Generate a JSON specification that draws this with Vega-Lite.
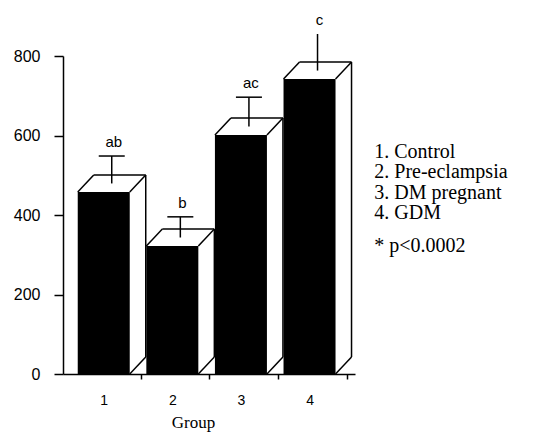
{
  "$schema": "https://vega.github.io/schema/vega-lite/v6.json",
  "width": 292,
  "height": 318,
  "autosize": {"type": "none"},
  "padding": {"left": 63, "top": 56, "right": 201, "bottom": 67},
  "background": "white",
  "config": {"view": {"stroke": null}, "axis": {"grid": false}},
  "datasets": {
    "bars": [
      {"group": 1, "mean": 458, "upper": 527, "sig": "ab"},
      {"group": 2, "mean": 322, "upper": 374, "sig": "b"},
      {"group": 3, "mean": 601, "upper": 675, "sig": "ac"},
      {"group": 4, "mean": 742, "upper": 834, "sig": "c"}
    ],
    "notes": [
      {"text": "1. Control", "lx": 4.944, "ly": 543},
      {"text": "2. Pre-eclampsia", "lx": 4.944, "ly": 492},
      {"text": "3. DM pregnant", "lx": 4.944, "ly": 440},
      {"text": "4. GDM", "lx": 4.944, "ly": 389},
      {"text": "* p<0.0002", "lx": 4.944, "ly": 307}
    ]
  },
  "layer": [
    {
      "data": {"name": "bars"},
      "mark": {"type": "bar", "width": 52, "color": "black"},
      "encoding": {
        "x": {
          "field": "group", "type": "quantitative", "title": "Group",
          "scale": {"domain": [0.479, 4.59], "nice": false, "zero": false},
          "axis": {
            "title": "Group",
            "values": [1, 1.54, 2, 2.54, 3, 3.54, 4, 4.54],
            "labelExpr": "datum.value % 1 == 0 ? format(datum.value, 'd') : ''",
            "tickOpacity": {"condition": {"test": "datum.value % 1 == 0", "value": 0}, "value": 1},
            "tickSize": 5, "tickWidth": 1.5, "tickColor": "black",
            "domainColor": "black", "domainWidth": 1.5,
            "labelFont": "Liberation Sans", "labelFontSize": 14, "labelColor": "black",
            "labelPadding": 14,
            "titleFont": "Liberation Serif", "titleFontSize": 17, "titleFontWeight": "normal",
            "titleColor": "black", "titlePadding": 7, "titleX": 130
          }
        },
        "y": {
          "field": "mean", "type": "quantitative", "title": null,
          "scale": {"domain": [0, 800], "nice": false},
          "axis": {
            "title": null,
            "values": [0, 100, 200, 300, 400, 500, 600, 700, 800],
            "labelExpr": "datum.value % 200 == 0 ? format(datum.value, 'd') : ''",
            "tickSize": {"condition": {"test": "datum.value % 200 == 0", "value": 9}, "value": 5},
            "tickWidth": 1.5, "tickColor": "black",
            "domainColor": "black", "domainWidth": 1.5,
            "labelFont": "Liberation Sans", "labelFontSize": 16, "labelColor": "black",
            "labelPadding": 14
          }
        }
      }
    },
    {
      "data": {"name": "bars"},
      "mark": {"type": "rule", "color": "black", "strokeWidth": 1.5, "xOffset": 8, "yOffset": -8.5, "y2Offset": -8.5},
      "encoding": {
        "x": {"field": "group", "type": "quantitative", "title": "Group"},
        "y": {"field": "mean", "type": "quantitative", "title": null},
        "y2": {"field": "upper"}
      }
    },
    {
      "data": {"name": "bars"},
      "transform": [{"filter": "datum.group != 4"}],
      "mark": {"type": "rule", "color": "black", "strokeWidth": 1.5, "xOffset": -5, "x2Offset": 21, "yOffset": -8.5},
      "encoding": {
        "x": {"field": "group", "type": "quantitative", "title": "Group"},
        "x2": {"field": "group"},
        "y": {"field": "upper", "type": "quantitative", "title": null}
      }
    },
    {
      "data": {"name": "bars"},
      "mark": {"type": "rule", "color": "black", "strokeWidth": 1.5, "xOffset": -26, "x2Offset": -10, "y2Offset": -17},
      "encoding": {
        "x": {"field": "group", "type": "quantitative", "title": "Group"},
        "x2": {"field": "group"},
        "y": {"field": "mean", "type": "quantitative", "title": null},
        "y2": {"field": "mean"}
      }
    },
    {
      "data": {"name": "bars"},
      "mark": {"type": "rule", "color": "black", "strokeWidth": 1.5, "xOffset": 26, "x2Offset": 42, "y2Offset": -17},
      "encoding": {
        "x": {"field": "group", "type": "quantitative", "title": "Group"},
        "x2": {"field": "group"},
        "y": {"field": "mean", "type": "quantitative", "title": null},
        "y2": {"field": "mean"}
      }
    },
    {
      "data": {"name": "bars"},
      "mark": {"type": "rule", "color": "black", "strokeWidth": 1.5, "xOffset": -10, "x2Offset": 42, "yOffset": -17},
      "encoding": {
        "x": {"field": "group", "type": "quantitative", "title": "Group"},
        "x2": {"field": "group"},
        "y": {"field": "mean", "type": "quantitative", "title": null}
      }
    },
    {
      "data": {"name": "bars"},
      "mark": {"type": "rule", "color": "black", "strokeWidth": 1.5, "xOffset": 42, "yOffset": -17, "y2Offset": -17},
      "encoding": {
        "x": {"field": "group", "type": "quantitative", "title": "Group"},
        "y": {"field": "mean", "type": "quantitative", "title": null},
        "y2": {"datum": 0}
      }
    },
    {
      "data": {"name": "bars"},
      "mark": {"type": "rule", "color": "black", "strokeWidth": 1.5, "xOffset": 26, "x2Offset": 42, "y2Offset": -17},
      "encoding": {
        "x": {"field": "group", "type": "quantitative", "title": "Group"},
        "x2": {"field": "group"},
        "y": {"datum": 0, "type": "quantitative", "title": null},
        "y2": {"datum": 0}
      }
    },
    {
      "data": {"name": "bars"},
      "mark": {"type": "text", "xOffset": 10, "yOffset": -17.5, "baseline": "alphabetic", "align": "center", "font": "Liberation Sans", "fontSize": 15, "color": "black"},
      "encoding": {
        "x": {"field": "group", "type": "quantitative", "title": "Group"},
        "y": {"field": "upper", "type": "quantitative", "title": null},
        "text": {"field": "sig"}
      }
    },
    {
      "data": {"name": "notes"},
      "mark": {"type": "text", "align": "left", "baseline": "alphabetic", "font": "Liberation Serif", "fontSize": 20, "color": "black"},
      "encoding": {
        "x": {"field": "lx", "type": "quantitative", "title": "Group"},
        "y": {"field": "ly", "type": "quantitative", "title": null},
        "text": {"field": "text"}
      }
    }
  ]
}
